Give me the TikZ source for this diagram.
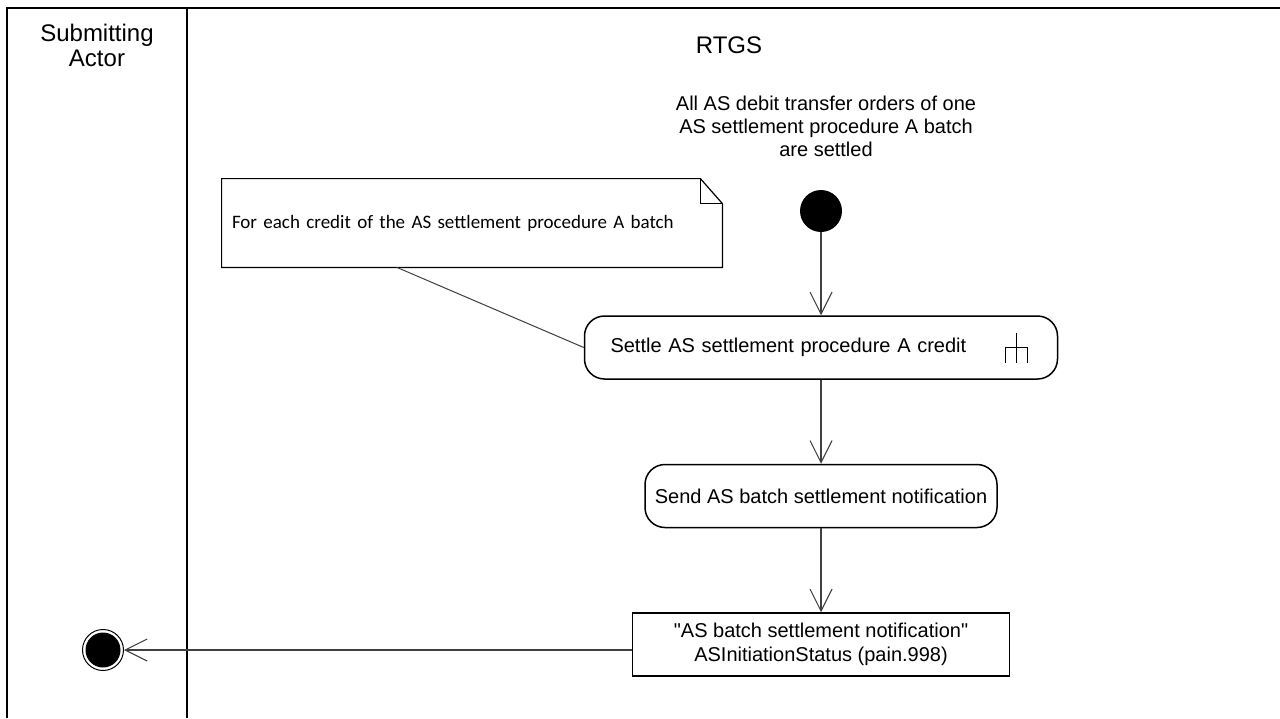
\documentclass[tikz,border=0pt]{standalone}
\usepackage{fontspec}
\setmainfont{Liberation Sans}
\newfontfamily\notefont{Carlito}
\usetikzlibrary{arrows.meta,calc}

\begin{document}
\begin{tikzpicture}[x=0.5pt, y=-0.5pt, >={Straight Barb[length=11pt, width=11pt]},
    lane/.style={line width=1pt},
    header/.style={font=\fontsize{12}{12.5}\selectfont, align=center},
    action/.style={draw, line width=0.75pt, rounded corners=10pt, minimum height=31.5pt, font=\fontsize{10}{12}\selectfont},
    msgbox/.style={draw, line width=0.75pt, minimum width=188.5pt, minimum height=31.5pt, align=center, font=\fontsize{10}{12}\selectfont},
    notebox/.style={minimum width=250pt, minimum height=44pt, text width=240pt, inner xsep=5pt, align=left, font=\notefont\fontsize{9.5}{12}\selectfont},
    startdot/.style={circle, fill=black, minimum size=21pt, inner sep=0pt},
    enddot/.style={circle, draw, line width=0.5pt, minimum size=20.5pt, inner sep=0pt, path picture={\fill (path picture bounding box.center) circle (8.75pt);}},
    flow/.style={->, draw=black!75, line width=0.55pt},
    noteline/.style={draw=black!75, line width=0.5pt}]

  \useasboundingbox (0,0) rectangle (1280,718);

  % 泳道
  \draw[lane] (7,718) |- (1280,8);
  \draw[lane] (187,8) -- (187,718);
  \node[header] (actor lane) at (97,45) {Submitting\\Actor};
  \node[header] (rtgs lane) at (729,45) {RTGS};

  % 起点
  \node[align=center, font=\fontsize{10}{11.5}\selectfont] (start text) at (826,126) {All AS debit transfer orders of one\\AS settlement procedure A batch\\are settled};
  \node[startdot] (init) at (821,211) {};

  % 活动
  \node[action, minimum width=236.5pt, text width=210.5pt, inner xsep=13pt, align=left] (settle) at (821,347.5) {Settle AS settlement procedure A credit};
  \draw[line width=0.6pt] ($(settle.east)+(-42,-15)$) -- ++(0,30)
    ($(settle.east)+(-53,15)$) -- ++(0,-15) -- ++(22,0) -- ++(0,15);
  \node[action, minimum width=176pt] (notify) at (821,496) {Send AS batch settlement notification};
  \node[msgbox] (msg) at (821,644.5) {\textquotedbl AS batch settlement notification\textquotedbl\\ASInitiationStatus (pain.998)};
  \node[enddot] (fin) at (103,650) {};

  % 注释
  \node[notebox] (note) at (472,223) {For each credit of the AS settlement procedure A batch};
  \draw[line width=0.6pt] (note.south west) -- (note.north west) -- ($(note.north east)+(-22,0)$) -- ($(note.north east)+(0,25)$) -- (note.south east) -- cycle;
  \draw[line width=0.6pt] ($(note.north east)+(-22,0)$) |- ($(note.north east)+(0,25)$);
  \draw[noteline] ($(note.south west)!0.35!(note.south east)$) -- (settle.west);

  % 连线
  \draw[flow] (init) -- (settle);
  \draw[flow] (settle) -- (notify);
  \draw[flow] (notify) -- (msg);
  \draw[flow] (msg.west |- fin) -- (fin);
\end{tikzpicture}
\end{document}
